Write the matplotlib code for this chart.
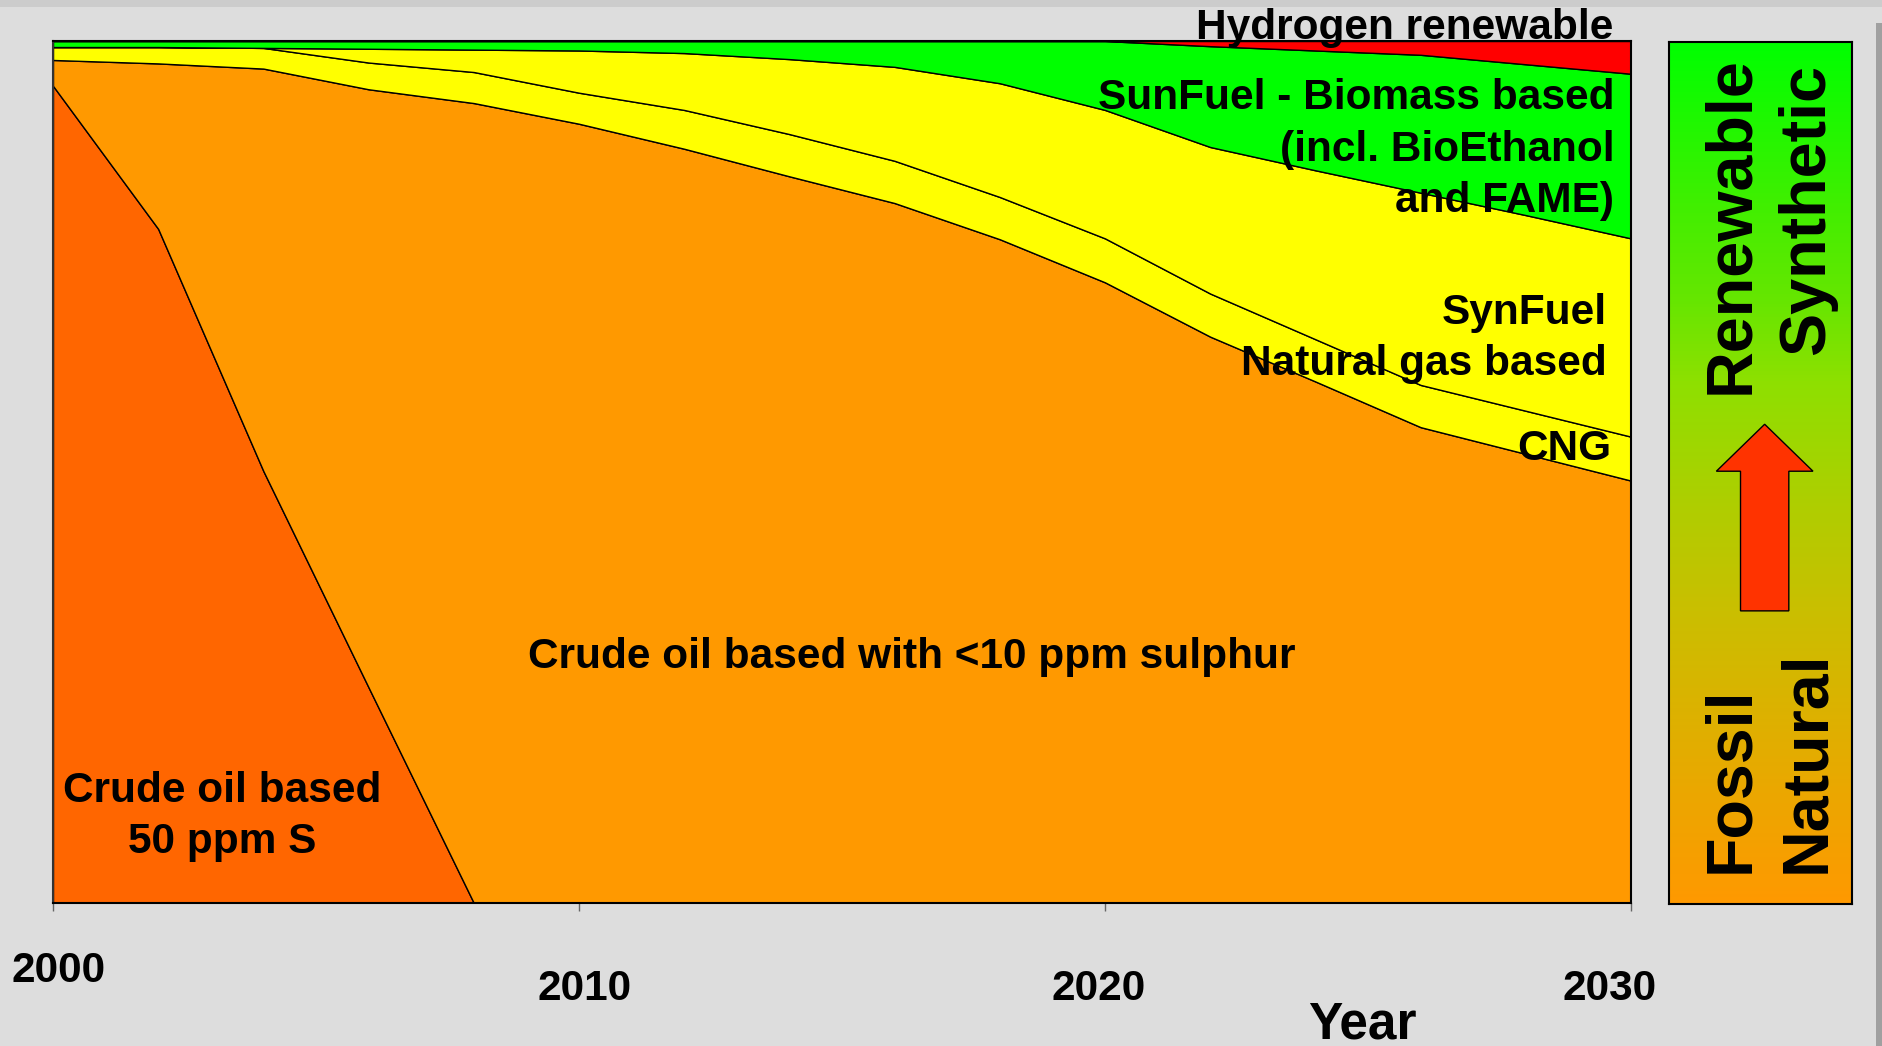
import numpy as np
import matplotlib
matplotlib.use("Agg")
import matplotlib.pyplot as plt
from matplotlib.colors import LinearSegmentedColormap
from matplotlib.patches import FancyArrow, Rectangle
from matplotlib.transforms import ScaledTranslation

plt.rcParams["font.family"] = ["Liberation Sans", "DejaVu Sans"]
plt.rcParams["font.weight"] = "bold"
plt.rcParams["axes.labelweight"] = "bold"

# share of fuel (%) per year, stacked bottom -> top
years = [2000, 2002, 2004, 2006, 2008, 2010, 2012, 2014,
         2016, 2018, 2020, 2022, 2024, 2026, 2028, 2030]
crude_50ppm = [94.8, 78.2, 50.1, 25.0, 0, 0, 0, 0, 0, 0, 0, 0, 0, 0, 0, 0]
crude_10ppm = [3.0, 19.2, 46.7, 69.4, 92.8, 90.4, 87.5, 84.3,
               81.2, 77.0, 72.0, 65.7, 60.5, 55.2, 52.1, 49.0]
cng = [1.5, 1.9, 2.4, 3.1, 3.6, 3.6, 4.5, 4.9,
       4.9, 4.9, 5.1, 5.0, 4.9, 4.9, 5.0, 5.1]
synfuel_gas = [0, 0, 0, 1.6, 2.6, 4.9, 6.6, 8.7,
               10.9, 13.2, 14.9, 17.0, 19.6, 22.3, 22.7, 23.0]
sunfuel_biomass = [0.7, 0.7, 0.8, 0.9, 1.0, 1.1, 1.4, 2.1,
                   3.0, 4.9, 8.0, 11.7, 13.9, 16.0, 17.5, 19.1]
hydrogen = [0, 0, 0, 0, 0, 0, 0, 0, 0, 0, 0, 0.6, 1.1, 1.6, 2.7, 3.8]

tick_years = [2000, 2010, 2020, 2030]

layer_colors = ["#ff6600", "#ff9900", "#ffff00", "#ffff00", "#00ff00", "#ff0000"]
FS = 30.5
SIDE_FS = 46.5

fig = plt.figure(figsize=(18.82, 10.46), dpi=100, facecolor="#dddddd")
fig.patches.append(Rectangle((0, 1 - 7 / 1046), 1, 7 / 1046, transform=fig.transFigure,
                             facecolor="#cccccc", edgecolor="none"))
fig.patches.append(Rectangle((1876 / 1882, 0), 6 / 1882, 1 - 23 / 1046, transform=fig.transFigure,
                             facecolor="#a0a0a0", edgecolor="none"))

ax = fig.add_axes([0.02816, 0.1367, 0.8385, 0.8241])
ax.stackplot(years, crude_50ppm, crude_10ppm, cng, synfuel_gas, sunfuel_biomass, hydrogen,
             colors=layer_colors, edgecolor="black", linewidth=1.0)
ax.set_xlim(2000, 2030)
ax.set_ylim(0, 100)
ax.set_yticks([])
ax.set_xticks(tick_years)
ax.set_xticklabels([str(y) for y in tick_years])
ax.tick_params(axis="x", direction="out", length=5.8, width=1, color="#666666",
               pad=41.8, labelsize=FS)
for spine in ax.spines.values():
    spine.set_linewidth(1.5)
    spine.set_color("black")
ax.spines["left"].set_color("#333333")

# the tick labels in the original sit a little off their ticks
label_shift = [(6, 18), (6, 0), (-6, 0), (-21, 0)]
for label, (dx, dy) in zip(ax.get_xticklabels(), label_shift):
    label.set_transform(label.get_transform()
                        + ScaledTranslation(dx / 100, dy / 100, fig.dpi_scale_trans))

ax.set_xlabel("Year", fontsize=37, fontweight="bold")
ax.xaxis.set_label_coords(0.8295, -0.157)
ax.xaxis.label.set_va("baseline")

ax.text(2029.66, 100.2, "Hydrogen renewable", ha="right", va="baseline", fontsize=FS)
ax.text(2029.68, 80.16, "SunFuel - Biomass based\n(incl. BioEthanol\nand FAME)",
        ha="right", va="baseline", multialignment="right", fontsize=FS, linespacing=1.37)
ax.text(2029.54, 61.25, "SynFuel\nNatural gas based", ha="right", va="baseline",
        multialignment="right", fontsize=FS, linespacing=1.37)
ax.text(2029.62, 51.39, "CNG", ha="right", va="baseline", fontsize=FS)
ax.text(2016.33, 27.26, "Crude oil based with <10 ppm sulphur", ha="center",
        va="baseline", fontsize=FS)
ax.text(2003.21, 5.80, "Crude oil based\n50 ppm S", ha="center", va="baseline",
        multialignment="center", fontsize=FS, linespacing=1.37)

# side panel: fossil -> renewable
pax = fig.add_axes([0.8868, 0.1358, 0.09724, 0.8241])
cmap = LinearSegmentedColormap.from_list(
    "fossil_renewable",
    [(0, "#ff9900"), (0.35, "#c8c000"), (0.605, "#8ee000"), (0.7, "#66e600"), (1, "#00ff00")])
pax.imshow(np.linspace(0, 1, 256).reshape(-1, 1), origin="lower", extent=[0, 1, 0, 1],
           aspect="auto", cmap=cmap)
pax.set_xlim(0, 1)
pax.set_ylim(0, 1)
pax.set_xticks([])
pax.set_yticks([])
for spine in pax.spines.values():
    spine.set_linewidth(1.5)
    spine.set_color("black")
pax.add_patch(FancyArrow(0.523, 0.340, 0, 0.2165, width=0.264, head_width=0.528,
                         head_length=0.0545, length_includes_head=True,
                         facecolor="#ff3300", edgecolor="black", linewidth=1))
pax.text(0.430, 0.984, "Renewable", rotation=90, rotation_mode="anchor", ha="right",
         va="baseline", fontsize=SIDE_FS, transform=pax.transAxes)
pax.text(0.846, 0.974, "Synthetic", rotation=90, rotation_mode="anchor", ha="right",
         va="baseline", fontsize=SIDE_FS, transform=pax.transAxes)
pax.text(0.430, 0.036, "Fossil", rotation=90, rotation_mode="anchor", ha="left",
         va="baseline", fontsize=SIDE_FS, transform=pax.transAxes)
pax.text(0.846, 0.036, "Natural", rotation=90, rotation_mode="anchor", ha="left",
         va="baseline", fontsize=SIDE_FS, transform=pax.transAxes)

fig.savefig("out.png", dpi=100, facecolor=fig.get_facecolor())
